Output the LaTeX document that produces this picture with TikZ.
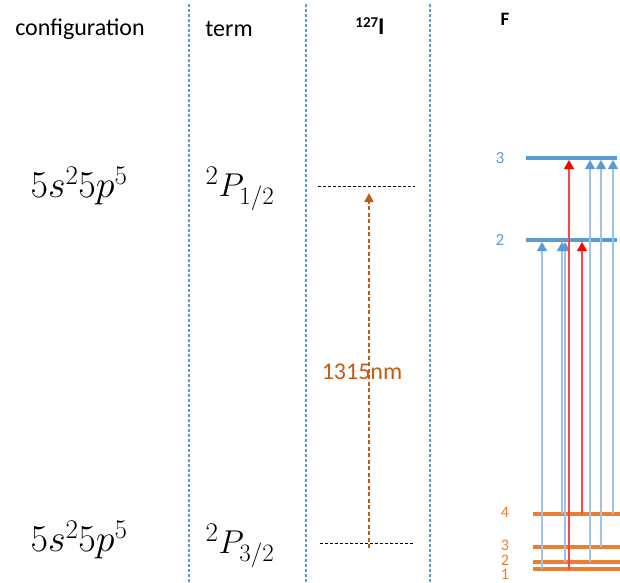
\RequirePackage{fix-cm}
\documentclass[tikz,border=0pt]{standalone}
\usepackage{fontspec}
\setmainfont{Carlito}
\usetikzlibrary{arrows.meta,positioning}
\definecolor{msblue}{HTML}{5B9BD5}
\definecolor{msorange}{HTML}{ED7D31}
\definecolor{darkorange}{HTML}{C55A11}
\definecolor{paleblue}{HTML}{9DC3E6}
\definecolor{palered}{HTML}{FF4545}
\newcommand{\bigsup}[1]{^{\hbox{\fontsize{27}{30}\selectfont$#1$}}}
\newcommand{\bigsub}[1]{_{\hbox{\fontsize{25}{28}\selectfont$#1$}}}
\tikzset{
    header/.style={font=\fontsize{24}{28}\selectfont, inner sep=0pt},
    config/.style={font=\fontsize{38}{44}\selectfont, inner sep=0pt},
    termlabel/.style={font=\fontsize{33}{38}\selectfont, inner sep=0pt},
    divider/.style={msblue, line width=1.1pt, dash pattern=on 3pt off 2pt},
    jlevel/.style={black, line width=0.8pt, dash pattern=on 3pt off 2pt},
    uplevel/.style={msblue, line width=4pt},
    lolevel/.style={msorange, line width=4pt},
    uplabel/.style={text=msblue, font=\fontsize{17}{20}\selectfont, inner sep=0pt},
    lolabel/.style={text=msorange, font=\fontsize{16}{19}\selectfont, inner sep=0pt},
    wavelabel/.style={text=darkorange, font=\fontsize{24}{28}\selectfont, inner sep=0pt},
    hfblue/.style={paleblue, line width=1.3pt, shorten >=2pt,
    -{Triangle[width=10pt,length=9pt,color=msblue]}},
    hfred/.style={palered, line width=1.3pt, shorten >=2pt,
    -{Triangle[width=10pt,length=9pt,color=red]}},
    finestr/.style={darkorange, line width=1.4pt, dash pattern=on 4pt off 2.5pt,
    -{Triangle[width=9pt,length=9pt]}},
}

\begin{document}
\begin{tikzpicture}[x=1pt, y=-1pt]
            \useasboundingbox (0,0) rectangle (620,582);
            % --- column dividers ---
            \foreach \x in {189,306,430} \draw[divider] (\x,4) -- (\x,582);
            % --- headers ---
            \node[header] (hconf) at (80,29) {configuration};
            \node[header] (hterm) at (229,29) {term};
            \node[font=\bfseries\fontsize{24}{28}\selectfont, inner sep=0pt] (hiso) at (370,26)
                {\raisebox{0.3em}{\fontsize{15}{18}\selectfont 127}I};
            \node[font=\bfseries\fontsize{19}{22}\selectfont, inner sep=0pt] (hf) at (505,19) {F};
            % --- configuration and term ---
            \node[config] (conf12) at (79,186) {$5s\bigsup{2}5p\bigsup{5}$};
            \node[config] (conf32) at (79,540) {$5s\bigsup{2}5p\bigsup{5}$};
            \node[termlabel] (term12) at (240,189) {$\bigsup{2}P\bigsub{1/2}$};
            \node[termlabel] (term32) at (240,546) {$\bigsup{2}P\bigsub{3/2}$};
            % --- fine structure line ---
            \coordinate (p12l) at (318,186);
            \coordinate (p12r) at (415,186);
            \coordinate (p32l) at (320,543);
            \coordinate (p32r) at (414,543);
            \draw[jlevel] (p12l) -- (p12r);
            \draw[jlevel] (p32l) -- (p32r);
            \coordinate (fsx) at (369,0);
            \draw[finestr, shorten <=-5pt, shorten >=7pt] (p32l -| fsx) -- (p12l -| fsx);
            \node[wavelabel] (lambda) at (362,372) {1315nm};
            % --- hyperfine levels ---
            \coordinate (up3) at (526,158);
            \coordinate (up2) at (526,240);
            \draw[uplevel] (up3) -- ++(91,0);
            \draw[uplevel] (up2) -- ++(91,0);
            \node[uplabel] (f3) at (500,158) {3};
            \node[uplabel] (f2) at (500,240) {2};
            \foreach \f/\y in {1/569,2/562,3/547,4/514} {
                \coordinate (lo\f) at (533,\y);
                \draw[lolevel] (lo\f) -- ++(87,0);
            }
            \node[lolabel] (g4) at (505,512) {4};
            \node[lolabel] (g3) at (505,545) {3};
            \node[lolabel] (g2) at (505,560) {2};
            \node[lolabel] (g1) at (505,574) {1};
            % --- hyperfine transitions ---
            \foreach \n/\x/\lo/\up/\kind in {1/542/1/2/hfblue, 2/562/4/2/hfblue, 3/565/2/2/hfblue,
                4/569/1/3/hfred, 5/582/4/2/hfred, 6/590/2/3/hfblue, 7/601/3/3/hfblue, 8/613/4/3/hfblue} {
                \coordinate (t\n) at (\x,0);
                \draw[\kind] (lo\lo -| t\n) -- (up\up -| t\n);
            }
        \end{tikzpicture}
\end{document}
